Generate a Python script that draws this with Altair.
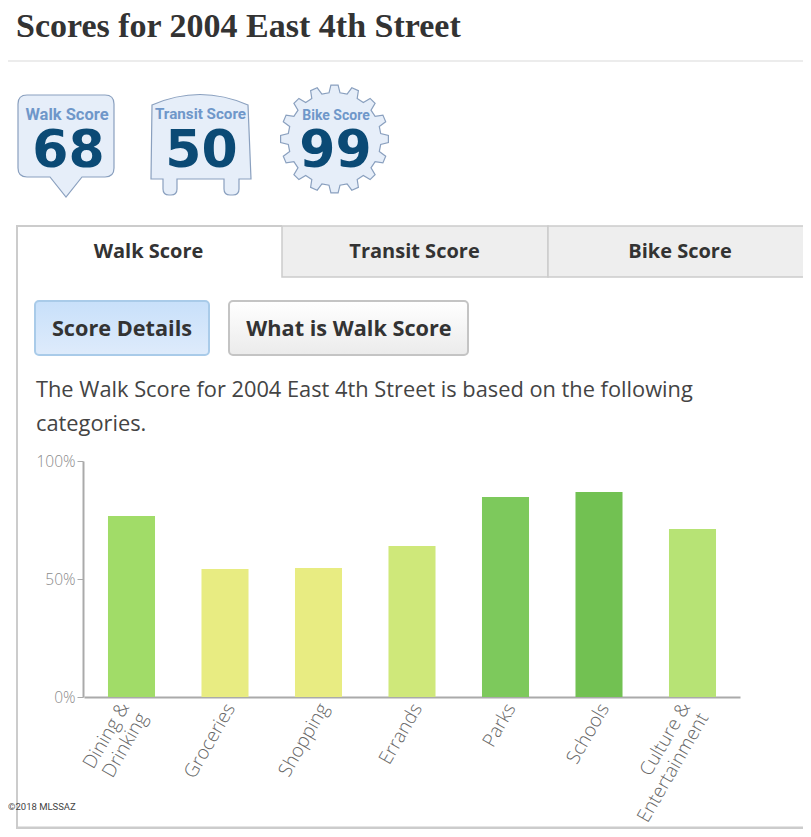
import math
import altair as alt
import pandas as pd

categories = ["Dining & Drinking", "Groceries", "Shopping", "Errands", "Parks", "Schools", "Culture & Entertainment"]
scores = [76.7, 54.2, 54.7, 64.0, 84.7, 86.9, 71.2]
bar_colors = ["#a1dc68", "#e8ec82", "#e8ec82", "#cfe87a", "#7dc95c", "#72c152", "#b7e375"]
y_ticks = [0, 50, 100]

OX, OY = 8, 8
one = alt.Data(values=[{}])


def rect(x0, y0, x1, y1, fill, stroke=None, sw=0, radius=0):
    kw = dict(fill=fill, cornerRadius=radius)
    if stroke:
        kw.update(stroke=stroke, strokeWidth=sw)
    else:
        kw.update(strokeWidth=0)
    return alt.Chart(one).mark_rect(**kw).encode(
        x=alt.value(x0 - OX), x2=alt.value(x1 - OX), y=alt.value(y0 - OY), y2=alt.value(y1 - OY))


def text(x, y, s, size, color, font="Open Sans", weight="normal", align="left", **extra):
    return alt.Chart(one).mark_text(
        text=s, fontSize=size, color=color, font=font, fontWeight=weight, align=align, baseline="alphabetic", **extra
    ).encode(x=alt.value(x - OX), y=alt.value(y - OY))


def shape(path, fill, stroke, sw=1.2):
    # with size 4 a custom symbol path is drawn one to one in pixels
    return alt.Chart(one).mark_point(
        shape=path, size=4, filled=True, fill=fill, stroke=stroke, strokeWidth=sw, opacity=1
    ).encode(x=alt.value(0), y=alt.value(0))


def grad(c0, c1):
    return alt.Gradient(gradient="linear", x1=0, y1=0, x2=0, y2=1,
                        stops=[alt.GradientStop(color=c0, offset=0), alt.GradientStop(color=c1, offset=1)])


def P(x, y):
    return f"{x - OX:.1f} {y - OY:.1f}"


walk_path = (f"M{P(27,95)} L{P(105,95)} Q{P(114,95)} {P(114,104)} L{P(114,168)} Q{P(114,177)} {P(105,177)} "
             f"L{P(82,177)} L{P(66,197)} L{P(50,177)} L{P(27,177)} Q{P(18,177)} {P(18,168)} L{P(18,104)} Q{P(18,95)} {P(27,95)} Z")
transit_path = (f"M{P(152,105)} Q{P(200,84)} {P(248,105)} L{P(251,179)} L{P(239,179)} L{P(239,189)} Q{P(239,195)} {P(233,195)} "
                f"L{P(230,195)} Q{P(224,195)} {P(224,189)} L{P(224,179)} L{P(177,179)} L{P(177,189)} Q{P(177,195)} {P(171,195)} "
                f"L{P(169,195)} Q{P(163,195)} {P(163,189)} L{P(163,179)} L{P(151,179)} Z")

gear = []
cx, cy, teeth = 334.5, 139, 16
for i in range(teeth):
    a = 2 * math.pi * i / teeth - math.pi / 2
    st = 2 * math.pi / teeth
    for frac, r in [(-0.30, 46.5), (-0.17, 54), (0.17, 54), (0.30, 46.5)]:
        gear.append(P(cx + r * math.cos(a + frac * st), cy + r * math.sin(a + frac * st)))
gear_path = "M" + " L".join(gear) + " Z"

decor = [
    rect(8, 60, 803, 62, "#ececec"),
    text(16, 37, "Scores for 2004 East 4th Street", 34, "#333333", font="Liberation Serif", weight="bold"),
    shape(walk_path, "#e6eef9", "#8aa0bf"),
    shape(transit_path, "#e6eef9", "#8aa0bf"),
    shape(gear_path, "#e6eef9", "#8aa0bf"),
    text(67, 120, "Walk Score", 16.5, "#6f97c9", font="Roboto", weight="bold", align="center"),
    text(200.5, 119, "Transit Score", 15.2, "#6f97c9", font="Roboto", weight="bold", align="center"),
    text(336, 120, "Bike Score", 14, "#6f97c9", font="Roboto", weight="bold", align="center"),
    text(68.5, 167, "68", 52, "#0b4a75", font="DejaVu Sans", weight="bold", align="center"),
    text(201.5, 167, "50", 52, "#0b4a75", font="DejaVu Sans", weight="bold", align="center"),
    text(335.5, 167, "99", 52, "#0b4a75", font="DejaVu Sans", weight="bold", align="center"),
    # panel
    rect(16, 225, 18, 829, "#cccccc"),
    rect(16, 225, 282, 227, "#cccccc"),
    rect(16, 826.5, 803, 829, "#cccccc"),
    rect(282, 226, 548, 277, "#eeeeee", "#cccccc", 1.5),
    rect(548, 226, 804, 277, "#eeeeee", "#cccccc", 1.5),
    text(148.5, 258, "Walk Score", 20, "#333333", weight="bold", align="center"),
    text(414.5, 258, "Transit Score", 20, "#333333", weight="bold", align="center"),
    text(680, 258, "Bike Score", 20, "#333333", weight="bold", align="center"),
    rect(35, 301, 209, 355, grad("#c8e0fa", "#deebfb"), "#a9cbe9", 2, 4),
    rect(229, 301, 468, 355, grad("#ffffff", "#ebebeb"), "#c4c4c4", 2, 4),
    text(122, 336, "Score Details", 21.7, "#333333", weight="bold", align="center"),
    text(349, 336, "What is Walk Score", 21.7, "#333333", weight="bold", align="center"),
    text(36, 397, "The Walk Score for 2004 East 4th Street is based on the following", 21.8, "#444444"),
    text(36, 431, "categories.", 21.8, "#444444"),
    text(8, 810, "©2018 MLSSAZ", 9.5, "#444444", font="Roboto"),
]

df = pd.DataFrame({"cat": categories, "score": scores})
df["label"] = df["cat"].str.replace(" & ", " &|")

x_scale = alt.Scale(range=[76, 732], paddingInner=0.497, paddingOuter=0.2565)

bars = alt.Chart(df).mark_bar().encode(
    x=alt.X("cat:N", sort=categories, title=None, scale=x_scale,
            axis=alt.Axis(orient="bottom", offset=-132, ticks=False, labels=False,
                          domainColor="#aaaaaa", domainWidth=2)),
    y=alt.Y("score:Q", title=None,
            scale=alt.Scale(domain=[0, 100], range=[689, 453]),
            axis=alt.Axis(orient="left", offset=-75, values=y_ticks, grid=False, tickSize=6, tickColor="#aaaaaa",
                          domainColor="#aaaaaa", domainWidth=2, labelPadding=2,
                          labelFont="Open Sans", labelFontSize=15.5, labelFontWeight=300, labelColor="#8a8a8a",
                          labelExpr="datum.value + '%'")),
    color=alt.Color("cat:N", legend=None, scale=alt.Scale(domain=categories, range=bar_colors)),
)


def cat_labels(frame, y_px, dx, dy):
    return alt.Chart(frame).mark_text(
        angle=300, align="right", baseline="middle", lineBreak="|", lineHeight=21, dx=dx, dy=dy,
        font="Open Sans", fontSize=19, fontWeight=300, color="#666666"
    ).encode(x=alt.X("cat:N", sort=categories, title=None, scale=x_scale),
             y=alt.value(y_px), text="label:N")


two_line = df["label"].str.contains(r"\|")
labels_single = cat_labels(df[~two_line], 697, 2.75, 4.76)
labels_double = cat_labels(df[two_line], 696, -3.5, -6.06)

chart = alt.layer(*decor, bars, labels_single, labels_double).properties(
    width=795, height=821, padding=0, autosize=alt.AutoSizeParams(type="none"), background="white"
).configure_view(stroke=None)

chart.save("out.html", embed_options={"renderer": "svg", "actions": False})
